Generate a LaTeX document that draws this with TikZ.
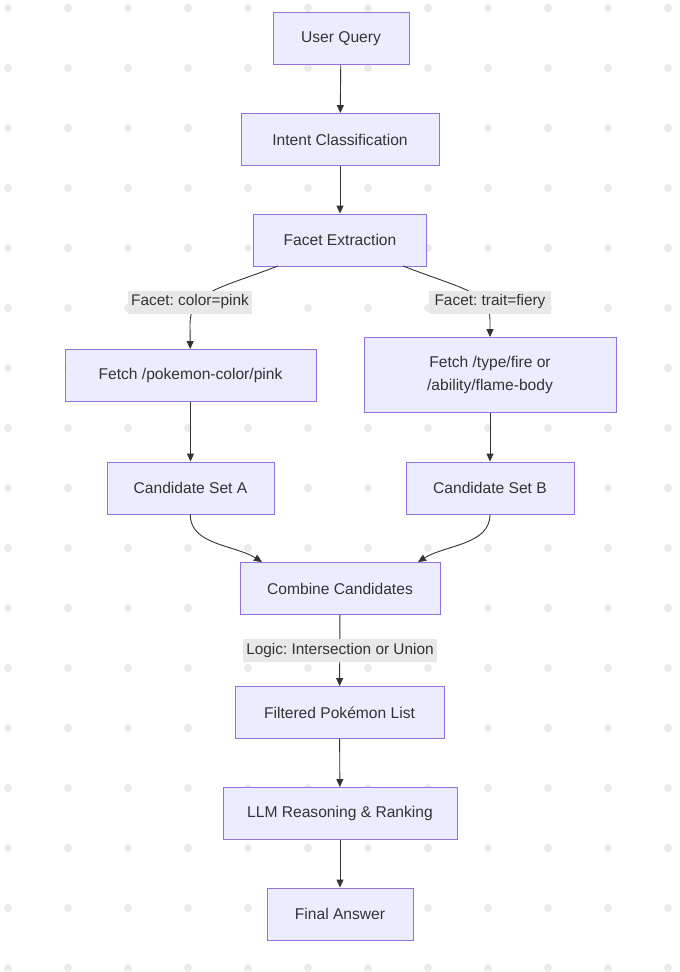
\documentclass[tikz,border=0pt]{standalone}
\usepackage{fontspec}
\setmainfont{Liberation Sans}
\usetikzlibrary{arrows.meta}
\definecolor{caixafundo}{HTML}{ECECFF}
\definecolor{caixaborda}{HTML}{9370DB}
\definecolor{linha}{HTML}{333333}
\definecolor{rotulofundo}{HTML}{E8E8E8}
\definecolor{ponto}{HTML}{EBEBEB}
\frenchspacing

\begin{document}
\begin{tikzpicture}[x=1pt,y=-1pt,
	caixa/.style={draw=caixaborda, fill=caixafundo, line width=0.9pt, text=linha,
		font=\fontsize{15.6}{23}\selectfont, align=center, inner sep=0pt, minimum height=52pt},
	rotulo/.style={fill=rotulofundo, text=linha, font=\fontsize{15.4}{17}\selectfont,
		inner sep=0pt, minimum height=23pt},
	seta/.style={draw=linha, line width=0.9pt, -{Triangle[length=8pt,width=7pt]}}]
	
	% Fundo pontilhado
	\useasboundingbox (0,0) rectangle (680,972);
	\foreach \x in {8,68,...,668}
	\foreach \y in {8,68,...,968}
	\fill[ponto] (\x,\y) circle (4pt);
	
	% Caixas principais
	\node[caixa, minimum width=136pt] (query) at (341,38.5) {User Query};
	\node[caixa, minimum width=198pt] (intent) at (340,139.5) {Intent Classification};
	\node[caixa, minimum width=173pt] (facet) at (340,240) {Facet Extraction};
	
	% Ramo da cor
	\node[caixa, minimum width=251pt] (fetchA) at (190.5,375.5) {Fetch /pokemon-color/pink};
	\node[caixa, minimum width=167pt] (candA) at (190.5,488) {Candidate Set A};
	
	% Ramo do traço
	\node[caixa, minimum width=252pt, minimum height=75pt] (fetchB) at (490,375) {Fetch /type/fire or\\/ability/flame-body};
	\node[caixa, minimum width=168pt] (candB) at (490,488) {Candidate Set B};
	
	% Junção e final
	\node[caixa, minimum width=200pt] (combine) at (340,588.5) {Combine Candidates};
	\node[caixa, minimum width=209pt] (filtered) at (339.5,712.5) {Filtered Pokémon List};
	\node[caixa, minimum width=234pt] (llm) at (340,813.5) {LLM Reasoning \& Ranking};
	\node[caixa, minimum width=146pt] (final) at (340,914) {Final Answer};
	
	% Pontos de saída e chegada das curvas
	\coordinate (facetA) at (278,266);
	\coordinate (facetB) at (403,266);
	\coordinate (combA) at (262,562);
	\coordinate (combB) at (418,562);
	
	% Setas retas
	\draw[seta] (query) -- (intent);
	\draw[seta] (intent) -- (facet);
	\draw[seta] (fetchA) -- (candA);
	\draw[seta] (fetchB) -- (candB);
	\draw[seta] (combine) -- (filtered);
	\draw[seta] (filtered) -- (llm);
	\draw[seta] (llm) -- (final);
	
	% Setas curvas
	\draw[seta] (facetA) .. controls (215,290) and (190,292) .. (190,325) -- (fetchA);
	\draw[seta] (facetB) .. controls (465,290) and (490,292) .. (490,320) -- (fetchB);
	\draw[seta] (candA) .. controls (190,545) and (235,545) .. (combA);
	\draw[seta] (candB) .. controls (490,545) and (445,545) .. (combB);
	
	% Rótulos das setas
	\node[rotulo, minimum width=124pt] (labA) at (190,302) {Facet: color=pink};
	\node[rotulo, minimum width=122pt] (labB) at (490,302) {Facet: trait=fiery};
	\node[rotulo, minimum width=194pt] (labC) at (340,650.5) {Logic: Intersection or Union};
	
\end{tikzpicture}
\end{document}
